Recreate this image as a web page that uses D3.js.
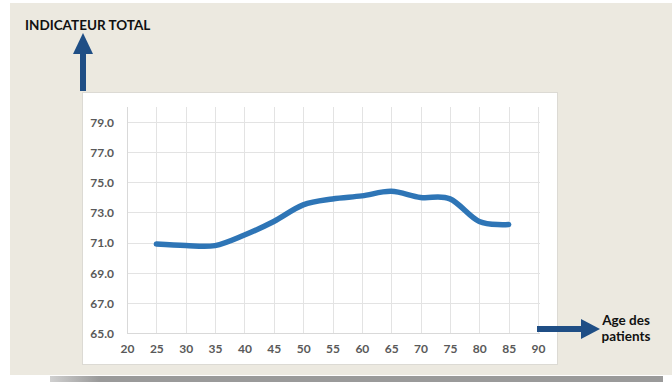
<!DOCTYPE html>
<html>
<head>
<meta charset="utf-8">
<script src="https://cdn.jsdelivr.net/npm/d3@7"></script>
<style>
  body { margin: 0; background: #fff; }
  svg { display: block; }
</style>
</head>
<body>
<div id="chart"></div>
<script>
// DATA //////////////////////////////////////////////////////////
var ages = [25, 30, 35, 40, 45, 50, 55, 60, 65, 70, 75, 80, 85];
var indicateur = [70.9, 70.8, 70.8, 71.5, 72.4, 73.5, 73.9, 74.1, 74.4, 74.0, 73.9, 72.4, 72.2];
var xTicks = [20, 25, 30, 35, 40, 45, 50, 55, 60, 65, 70, 75, 80, 85, 90];
var yTicks = [65, 67, 69, 71, 73, 75, 77, 79];
var yTitle = "INDICATEUR TOTAL";
var xTitle = ["Age des", "patients"];

// CANVAS ////////////////////////////////////////////////////////
var width = 672, height = 383;
var svg = d3.select("#chart").append("svg")
  .attr("width", width).attr("height", height);

var defs = svg.append("defs");
var grad = defs.append("linearGradient").attr("id", "shadow")
  .attr("x1", "0%").attr("x2", "100%");
grad.append("stop").attr("offset", "0%").attr("stop-color", "#d0d0d0");
grad.append("stop").attr("offset", "8%").attr("stop-color", "#9a9a9a");
grad.append("stop").attr("offset", "100%").attr("stop-color", "#9a9a9a");

// shadow under the slide, then the beige slide
svg.append("rect").attr("x", 50).attr("y", 376).attr("width", 613).attr("height", 6)
  .attr("fill", "url(#shadow)");
svg.append("rect").attr("x", 10).attr("y", 3).attr("width", 662).attr("height", 372)
  .attr("fill", "#ece9e0");

// white chart panel
svg.append("rect").attr("x", 82.5).attr("y", 92.5).attr("width", 475).attr("height", 272)
  .attr("fill", "#fff").attr("stroke", "#dcdad4");

// SCALES ////////////////////////////////////////////////////////
var x = d3.scaleLinear().domain([20, 90]).range([127, 538]);
var y = d3.scaleLinear().domain([65, 80]).range([333, 107]);

// GRID //////////////////////////////////////////////////////////
var grid = svg.append("g").attr("stroke", "#e3e3e3").attr("stroke-width", 1);
grid.selectAll(".vline").data(xTicks).enter().append("line")
  .attr("x1", function(d){ return Math.round(x(d)) + 0.5; })
  .attr("x2", function(d){ return Math.round(x(d)) + 0.5; })
  .attr("y1", y(80)).attr("y2", y(65));
grid.selectAll(".hline").data(yTicks).enter().append("line")
  .attr("x1", x(20)).attr("x2", x(90) + 2)
  .attr("y1", function(d){ return Math.round(y(d)) + 0.5; })
  .attr("y2", function(d){ return Math.round(y(d)) + 0.5; });

// axes lines
svg.append("line").attr("x1", x(20)).attr("x2", x(90) + 2)
  .attr("y1", Math.round(y(65)) + 0.5).attr("y2", Math.round(y(65)) + 0.5)
  .attr("stroke", "#d9d9d9");
svg.append("line").attr("x1", Math.round(x(20)) + 0.5).attr("x2", Math.round(x(20)) + 0.5)
  .attr("y1", y(80)).attr("y2", y(65)).attr("stroke", "#d9d9d9");

// tick labels via d3 axes
var yAxis = svg.append("g").attr("transform", "translate(" + (x(20) - 13) + ",0)")
  .call(d3.axisLeft(y).tickValues(yTicks).tickSize(0).tickPadding(0)
    .tickFormat(d3.format(".1f")));
var xAxis = svg.append("g").attr("transform", "translate(0," + (y(65) + 11) + ")")
  .call(d3.axisBottom(x).tickValues(xTicks).tickSize(0).tickPadding(0));
[yAxis, xAxis].forEach(function(a){
  a.select(".domain").remove();
  a.selectAll("text")
    .attr("fill", "#595959")
    .style("font-family", "Lato, 'Open Sans', sans-serif")
    .style("font-size", "12px")
    .style("font-weight", "bold");
});
yAxis.selectAll("text").attr("dy", "0.36em");
xAxis.selectAll("text").attr("dy", "0.71em");

// LINE //////////////////////////////////////////////////////////
var line = d3.line()
  .x(function(d, i){ return x(ages[i]); })
  .y(function(d){ return y(d); })
  .curve(d3.curveCardinal.tension(0));
svg.append("path").datum(indicateur)
  .attr("d", line)
  .attr("fill", "none")
  .attr("stroke", "#2e75b6")
  .attr("stroke-width", 5.5)
  .attr("stroke-linecap", "round")
  .attr("stroke-linejoin", "round");

// ARROWS & TITLES ///////////////////////////////////////////////
var arrowColor = "#1f4e85";
// up arrow
svg.append("rect").attr("x", 80).attr("y", 52).attr("width", 6).attr("height", 39)
  .attr("fill", arrowColor);
svg.append("path").attr("d", "M73,54 L83,33 L93,54 Z").attr("fill", arrowColor);
// right arrow
svg.append("rect").attr("x", 537).attr("y", 326).attr("width", 46).attr("height", 6)
  .attr("fill", arrowColor);
svg.append("path").attr("d", "M581,319 L600,329 L581,339 Z").attr("fill", arrowColor);

svg.append("text").attr("x", 25).attr("y", 30).text(yTitle)
  .attr("fill", "#111")
  .style("font-family", "Lato, 'Open Sans', sans-serif")
  .style("font-size", "13.5px").style("font-weight", "bold");

svg.append("g").selectAll("text").data(xTitle).enter().append("text")
  .attr("x", 626).attr("y", function(d, i){ return 325 + i * 15.5; })
  .attr("text-anchor", "middle")
  .text(function(d){ return d; })
  .attr("fill", "#111")
  .style("font-family", "Lato, 'Open Sans', sans-serif")
  .style("font-size", "13.5px").style("font-weight", "bold");
</script>
</body>
</html>
